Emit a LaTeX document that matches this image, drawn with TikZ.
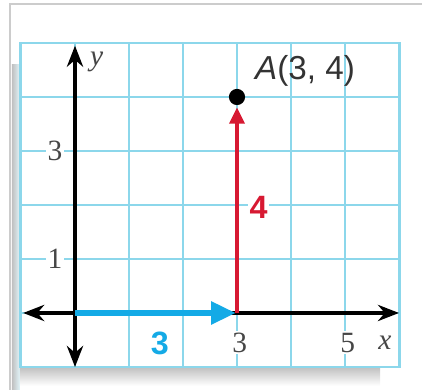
\documentclass[tikz,border=0pt]{standalone}
\usepackage{fontspec}
\setmainfont{Liberation Serif}
\setsansfont{Liberation Sans}
\usetikzlibrary{arrows.meta}
\definecolor{gridcyan}{RGB}{140,215,235}
\definecolor{vecblue}{RGB}{20,170,230}
\definecolor{vecred}{RGB}{215,25,50}
\definecolor{numgray}{RGB}{70,70,70}

\begin{document}
\begin{tikzpicture}[
  axis/.style={line width=1.8pt, {Stealth[length=3.9mm,width=3mm]}-{Stealth[length=3.9mm,width=3mm]}},
  grd/.style={gridcyan, line width=0.8pt},
  num/.style={font=\fontsize{15.5}{15.5}\selectfont, text=numgray, fill=white, inner sep=1pt},
  vlab/.style={font=\sffamily\bfseries\fontsize{17}{17}\selectfont, fill=white, inner sep=1pt},
  pt/.style={circle, fill=black, minimum size=3mm, inner sep=0pt}]
\useasboundingbox (-1.389,-1.426) rectangle (6.426,5.796);
% frame and shadow
\draw[black!20, line width=0.8pt] (6.426,5.72) -- (-1.2,5.72) -- (-1.2,-1.426);
\shade[left color=black!25, right color=gridcyan!25] (-1.17,-1.426) rectangle (-1.02,4.6);
\shade[top color=black!25, bottom color=white] (-1.02,-1.0) rectangle (5.65,-1.35);
% grid
\fill[white] (-1.02,-1) rectangle (6.03,5);
\draw[grd] (-1.02,-1) grid (6.03,5);
\draw[grd] (-1.02,-1) rectangle (6.03,5);
% axes
\coordinate (xl) at (-0.96,0);
\coordinate (xr) at (6,0);
\coordinate (yt) at (0,4.95);
\coordinate (yb) at (0,-1);
\coordinate (O) at (0,0);
\coordinate (P) at (3,0);
\draw[axis] (xl) -- (xr);
\draw[axis] (yb) -- (yt);
\node[font=\itshape\fontsize{15.5}{15.5}\selectfont, text=numgray] (ylab) at (0.4,4.65) {y};
\node[font=\itshape\fontsize{15.5}{15.5}\selectfont, text=numgray] (xlab) at (5.74,-0.55) {x};
\node[num] (y3) at (-0.37,3) {3};
\node[num] (y1) at (-0.37,1) {1};
\node[num] (x3) at (3.05,-0.55) {3};
\node[num] (x5) at (5.05,-0.55) {5};
% vectors
\node[pt] (A) at (3,4) {};
\node[font=\sffamily\fontsize{17.5}{17.5}\selectfont, text=black!80, anchor=west, inner sep=0pt] (Alab) at (3.33,4.48) {\textit{A}(3, 4)};
\draw[vecblue, line width=3.5pt, -{Triangle[length=4.6mm,width=4mm]}] (O) -- ([xshift=-0.5pt]P);
\draw[vecred, line width=1.6pt, -{Triangle[length=3mm,width=2.8mm]}, shorten >=1pt] (P) -- (A);
\node[vlab, text=vecblue] (len3) at (1.57,-0.57) {3};
\node[vlab, text=vecred] (len4) at (3.4,1.95) {4};
\end{tikzpicture}
\end{document}
